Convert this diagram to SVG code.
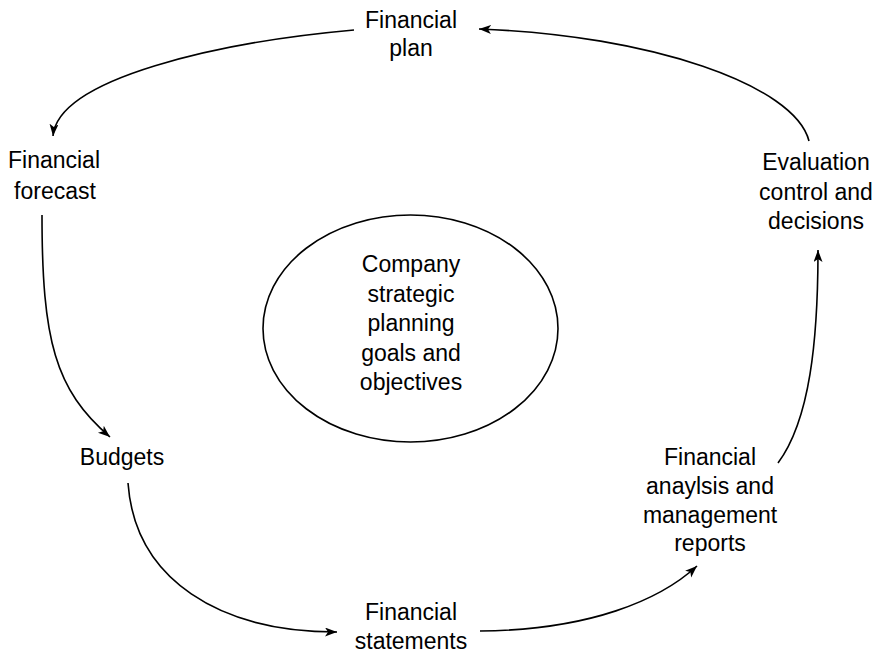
<svg xmlns="http://www.w3.org/2000/svg" width="882" height="654" viewBox="0 0 882 654">
<style>
text{font-family:"Liberation Sans",Arial,sans-serif;font-size:23px;fill:#000;text-anchor:middle}
.c{fill:none;stroke:#000;stroke-width:1.6}
</style>
<defs>
<marker id="ah" markerUnits="userSpaceOnUse" markerWidth="13" markerHeight="10" refX="12" refY="4.5" orient="auto">
<path d="M0,0 L12,4.5 L0,9 L3,4.5 z" fill="#000"/>
</marker>
</defs>
<rect width="882" height="654" fill="#fff"/>
<g id="connectors">
<path class="c" d="M354,30 C220,42 58,78 53,136" marker-end="url(#ah)"/>
<path class="c" d="M809,141 C795,85 650,35 479,29" marker-end="url(#ah)"/>
<path class="c" d="M42,215 C42,340 55,390 110,437" marker-end="url(#ah)"/>
<path class="c" d="M128,483 C135,580 220,632 337,632" marker-end="url(#ah)"/>
<path class="c" d="M480,631 C590,630 660,600 697,566" marker-end="url(#ah)"/>
<path class="c" d="M778,463 C810,420 818,340 818,250" marker-end="url(#ah)"/>
</g>
<g id="center">
<ellipse cx="410.5" cy="328.5" rx="147.5" ry="113.5" class="c"/>
<text x="411" y="272">Company</text>
<text x="411" y="301.5">strategic</text>
<text x="411" y="331">planning</text>
<text x="411" y="360.5">goals and</text>
<text x="411" y="390">objectives</text>
</g>
<g id="plan">
<text x="411" y="28">Financial</text>
<text x="411" y="56">plan</text>
</g>
<g id="forecast">
<text x="54" y="168">Financial</text>
<text x="55" y="199">forecast</text>
</g>
<g id="evaluation">
<text x="816" y="170">Evaluation</text>
<text x="816" y="200">control and</text>
<text x="816" y="229">decisions</text>
</g>
<g id="budgets">
<text x="122" y="465">Budgets</text>
</g>
<g id="statements">
<text x="411" y="620">Financial</text>
<text x="411" y="649">statements</text>
</g>
<g id="reports">
<text x="710" y="465">Financial</text>
<text x="710" y="494">anaylsis and</text>
<text x="710" y="523">management</text>
<text x="710" y="551">reports</text>
</g>
</svg>
